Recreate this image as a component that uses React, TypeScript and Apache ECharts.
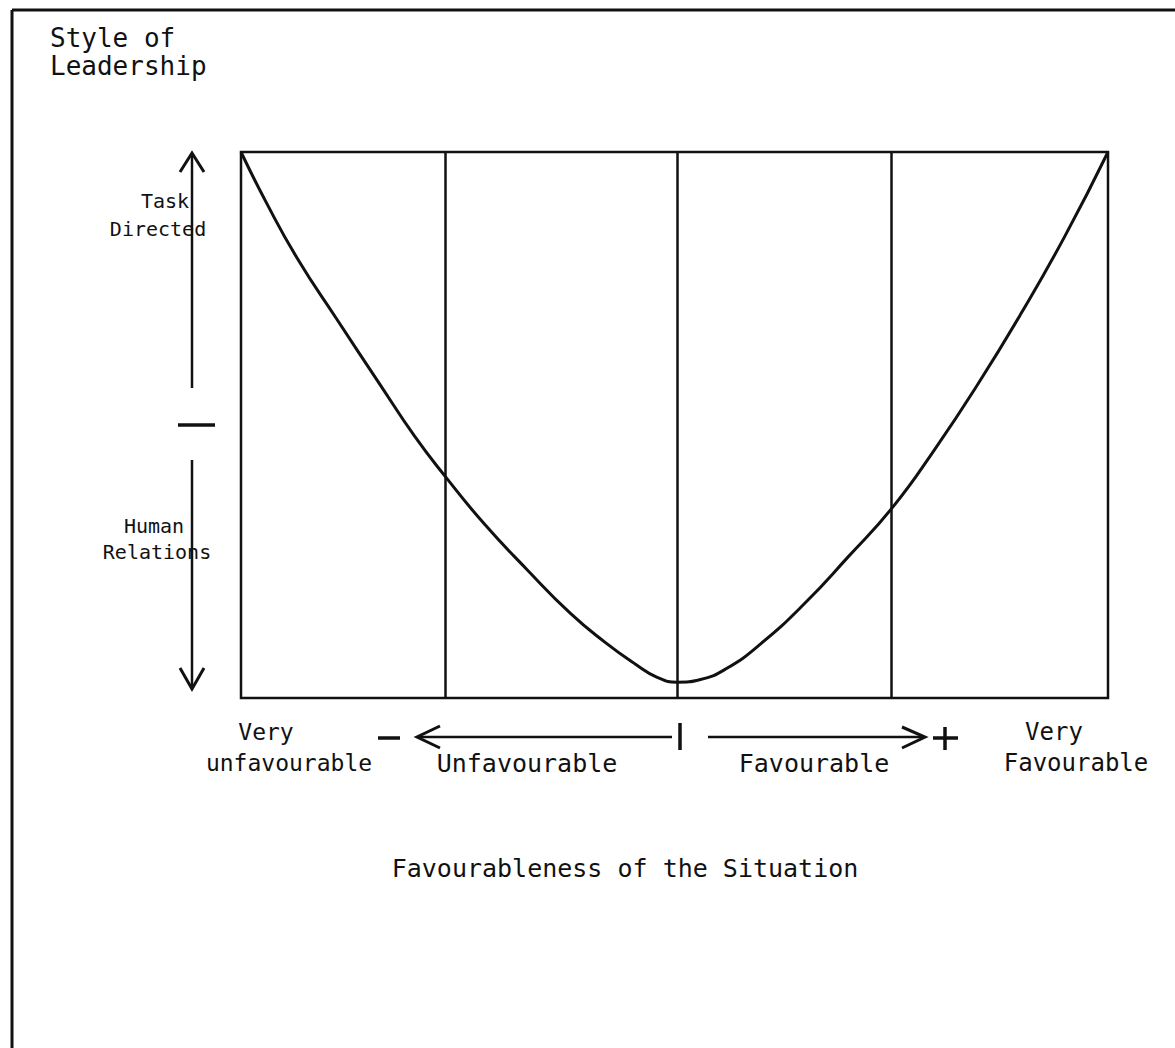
import React, { useEffect, useRef } from "react";
import * as echarts from "echarts";

// Curve: style of leadership (0 = human relations, 100 = task directed)
// against favourableness of the situation (0 = very unfavourable, 100 = very favourable)
const curveX = [0, 3, 6.5, 11, 16, 20, 23.6, 28, 33, 38, 42, 45.5, 48, 50.3, 53, 56, 60, 65, 70, 75.2, 80, 85, 90, 95, 100];
const curveY = [100, 90.5, 80.5, 69.5, 57.5, 48, 40.5, 32, 23.5, 15.5, 10.2, 6.2, 3.8, 2.9, 3.4, 5.4, 10, 17.3, 25.8, 35.0, 45.5, 57.5, 70.5, 84.5, 100];
const dividers = [23.6, 50.3, 75.0];

const yTitle = ["Style of", "Leadership"];
const yUpper = ["Task", "Directed"];
const yLower = ["Human", "Relations"];
const xCats = ["Very", "unfavourable", "Unfavourable", "Favourable", "Very", "Favourable"];
const xTitle = "Favourableness of the Situation";

const FONT = "DejaVu Sans Mono";
const INK = "#111";

function txt(text: string, x: number, y: number, align: string = "left", size = 24) {
  return {
    type: "text",
    x,
    y,
    silent: true,
    style: { text, fontSize: size, fontFamily: FONT, fill: INK, align, verticalAlign: "middle" },
  };
}
function ln(x1: number, y1: number, x2: number, y2: number, w = 2.5) {
  return { type: "line", silent: true, shape: { x1, y1, x2, y2 }, style: { stroke: INK, lineWidth: w } };
}
function pl(points: number[][], w = 2.5) {
  return { type: "polyline", silent: true, shape: { points }, style: { stroke: INK, lineWidth: w, fill: "none" } };
}

export default function App() {
  const ref = useRef<HTMLDivElement>(null);
  useEffect(() => {
    if (!ref.current) return;
    const chart = echarts.init(ref.current, undefined, { renderer: "svg" });
    const data = curveX.map((x, i) => [x, curveY[i]]);
    chart.setOption({
      animation: false,
      backgroundColor: "#fff",
      grid: { left: 241, top: 152, width: 867, height: 546, show: true, borderColor: INK, borderWidth: 2.5, backgroundColor: "transparent" },
      xAxis: { type: "value", min: 0, max: 100, axisLine: { show: false }, axisTick: { show: false }, axisLabel: { show: false }, splitLine: { show: false } },
      yAxis: { type: "value", min: 0, max: 100, axisLine: { show: false }, axisTick: { show: false }, axisLabel: { show: false }, splitLine: { show: false } },
      series: [
        {
          type: "line",
          data,
          smooth: 0.5,
          showSymbol: false,
          symbol: "none",
          lineStyle: { color: INK, width: 3 },
          markLine: {
            silent: true,
            symbol: "none",
            label: { show: false },
            lineStyle: { color: INK, width: 2.5, type: "solid" },
            data: dividers.map((x) => ({ xAxis: x })),
          },
        },
      ],
      graphic: [
        // frame
        ln(12, 10, 12, 1048, 3),
        ln(12, 10, 1175, 10, 3),
        // y-axis title
        txt(yTitle[0], 50, 38, "left", 26),
        txt(yTitle[1], 50, 66, "left", 26),
        // vertical arrows
        ln(192, 154, 192, 388, 2.5),
        pl([[180, 172], [192, 153], [204, 172]], 3),
        ln(178, 425, 215, 425, 3.5),
        ln(192, 460, 192, 688, 2.5),
        pl([[180, 668], [192, 689], [204, 668]], 3),
        txt(yUpper[0], 165, 201, "center", 20),
        txt(yUpper[1], 158, 229, "center", 20),
        txt(yLower[0], 154, 526, "center", 20),
        txt(yLower[1], 157, 552, "center", 20),
        // bottom scale
        ln(378, 738, 400, 738, 3.5),
        ln(418, 737, 672, 737, 2.5),
        pl([[440, 726], [417, 737], [440, 748]], 3),
        ln(680, 723, 680, 750, 3.5),
        ln(708, 737, 923, 737, 2.5),
        pl([[902, 727], [925, 737], [902, 748]], 3),
        ln(933, 738, 958, 738, 3.5),
        ln(945, 727, 945, 750, 3.5),
        txt(xCats[0], 266, 732, "center", 23),
        txt(xCats[1], 289, 763, "center", 23),
        txt(xCats[2], 527, 763, "center", 25),
        txt(xCats[3], 814, 763, "center", 25),
        txt(xCats[4], 1054, 732, "center", 24),
        txt(xCats[5], 1076, 763, "center", 24),
        txt(xTitle, 625, 868, "center", 25),
      ],
    });
    return () => chart.dispose();
  }, []);
  return <div ref={ref} style={{ position: "fixed", left: 0, top: 0, width: 1175, height: 1048 }} />;
}
